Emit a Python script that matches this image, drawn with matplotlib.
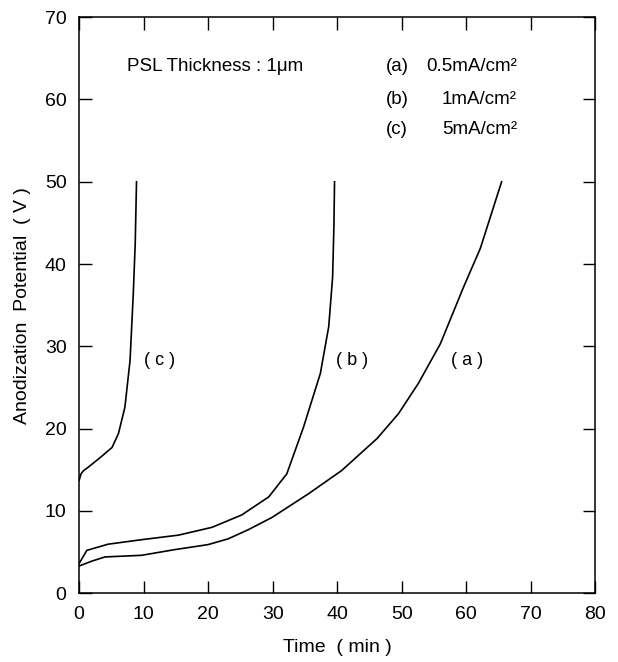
import matplotlib
matplotlib.use('Agg')
import matplotlib.pyplot as plt

plt.rcParams['font.family'] = ['Liberation Sans', 'DejaVu Sans']

# curve (a) 0.5 mA/cm2
ta = [0, 2, 4, 9.7, 14.9, 20, 23.1, 26.2, 29.9, 35.6, 40.7, 46.2, 49.5, 52.6, 56, 59.6, 62.2, 65.5]
va = [3.3, 3.9, 4.4, 4.6, 5.3, 5.9, 6.6, 7.7, 9.2, 12.1, 14.9, 18.8, 21.8, 25.5, 30.3, 37.2, 41.9, 50]
# curve (b) 1 mA/cm2
tb = [0, 0.3, 1.2, 4.5, 9.7, 15.4, 20.6, 25.2, 29.4, 32.2, 34.8, 37.4, 38.7, 39.3, 39.5, 39.6]
vb = [3.6, 4.0, 5.2, 5.95, 6.5, 7.05, 8.0, 9.5, 11.7, 14.5, 20.2, 26.7, 32.4, 38.4, 44.5, 50]
# curve (c) 5 mA/cm2
tc = [0, 0.3, 0.7, 1.4, 3.3, 5.1, 6.1, 7.1, 7.9, 8.4, 8.7, 8.9]
vc = [13.7, 14.5, 14.9, 15.3, 16.5, 17.7, 19.4, 22.6, 28.3, 36.4, 42.5, 50]

curve_labels = ['( a )', '( b )', '( c )']
label_x = [60.1, 42.3, 12.5]
label_y = [28.3, 28.3, 28.3]

legend_ids = ['(a)', '(b)', '(c)']
legend_vals = ['0.5mA/cm²', '1mA/cm²', '5mA/cm²']
legend_y = [64.0, 60.0, 56.4]

fig = plt.figure(figsize=(6.18, 6.62), dpi=100)
ax = fig.add_axes([0.128, 0.104, 0.835, 0.870])

for t, v in [(ta, va), (tb, vb), (tc, vc)]:
    ax.plot(t, v, color='black', lw=1.2)

for s, x, y in zip(curve_labels, label_x, label_y):
    ax.text(x, y, s, fontsize=13, ha='center', va='center')

ax.text(7.4, 64.0, 'PSL Thickness : 1μm', fontsize=13.5, va='center')
for i, v, y in zip(legend_ids, legend_vals, legend_y):
    ax.text(47.6, y, i, fontsize=13.5, va='center')
    ax.text(67.9, y, v, fontsize=13.5, va='center', ha='right')

ax.set_xlim(0, 80)
ax.set_ylim(0, 70)
ax.set_xticks(range(0, 81, 10))
ax.set_yticks(range(0, 71, 10))
ax.tick_params(direction='in', length=9, width=1, top=True, right=True,
               labelsize=14, pad=9)
for sp in ax.spines.values():
    sp.set_linewidth(1.1)

ax.set_xlabel('Time  ( min )', fontsize=14, labelpad=12)
ax.set_ylabel('Anodization  Potential  ( V )', fontsize=14, labelpad=10)

fig.savefig('out.png', dpi=100)
